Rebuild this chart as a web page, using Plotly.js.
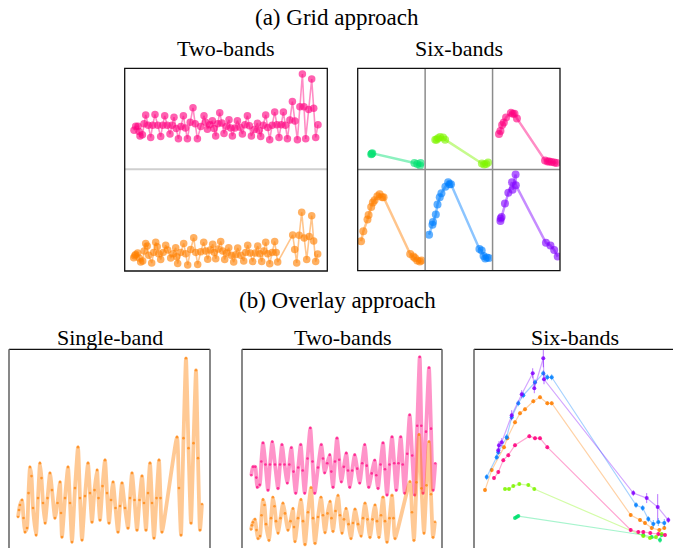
<!DOCTYPE html>
<html><head><meta charset="utf-8">
<script src="https://cdn.plot.ly/plotly-3.0.1.min.js"></script>
<style>html,body{margin:0;padding:0;background:#fff;}#chart{width:673px;height:548px;}</style>
</head><body><div id="chart"></div>
<script>
// ---------------- DATA ----------------
// Two-band light curve (arbitrary time / flux units)
const orangeTime = [9,10,11,13,14.5,16,18,19.5,21,22.5,24,27,29,31,32.5,34,36,38.5,41,43,46,48.5,51,52,53,56,59,61,63,66,69,71,73,76,79,81,83,85.5,88,89.5,91,93.5,96,98,100,102,104,106.5,109,111,113,116,119,121,123,125.5,128,130.5,133,135,137,139,141,143,145,147.5,150,151.5,153,168,170,172,174.5,177,179.5,182,184.5,187,189,191,193];
const orangeFlux = [31,38,43,48,30,16,20,55,81,72,40,13,50,85,70,45,25,50,75,58,30,45,66,35,11,50,81,45,6,60,101,50,8,52,85,55,26,58,78,50,28,62,88,55,25,48,66,40,16,42,65,40,20,50,75,48,18,48,72,45,18,55,85,45,10,50,88,50,16,111,60,13,110,190,100,25,105,178,90,18,44];
const pinkTime = [9.3,11,13.3,14.3,15.3,17.7,19.3,21,23.5,26,28,30.3,33,36,38,40,42.5,45.3,47.3,49.3,51.5,53.7,56.2,58.7,60.7,62.7,65.5,68.3,70.5,72.7,76,79.3,81,82.7,85.2,87.7,89.3,91,93,95,97.2,99.3,101.8,104.3,106,107.7,110.2,112.7,115.2,117.7,120.2,122.7,124.7,126.7,129.7,132.7,134.3,136,138.5,141,143,145,147.5,150,152.2,154.3,156.5,158.7,160.7,162.7,165.2,167.7,170.2,172.7,175.2,177.7,179.3,181,184,187,189,191,193.3];
const pinkFlux = [122,136,136,118,102,106,145,176,140,97,140,178,140,100,140,173,140,109,140,168,128,92,135,173,130,92,150,201,145,92,135,173,150,126,142,156,128,102,145,184,148,111,136,159,130,102,130,156,133,109,142,173,138,102,125,147,122,100,140,176,132,89,140,186,142,97,142,186,140,92,158,223,155,89,205,320,205,92,195,302,200,97,142];

// Six-band transient
const sixGreenTime  = [40,41.7,43.3,168.3,176.7,185,186.7];
const sixGreenFlux  = [30,31,32,13,11,8,13];
const sixGreenErr   = [1.5,1.5,1.5,1.5,1.5,3,1.5];
const sixLimeTime   = [30,34,38.3,44.3,53.3,59.3,168.3,175,181,186.7];
const sixLimeFlux   = [59,59,62,64,63,59,12,10,11,14];
const sixLimeErr    = [1.5,1.5,1.5,1.5,1.5,1.5,1.5,1.5,1.5,1.5];
const sixPinkTime   = [19,23.3,28.3,33.3,40,54.3,60,65,72.3,155.7,163.3,168.3,175.3,183.3,190];
const sixPinkFlux   = [70,76,88,93,103,112,110,110,101,18,16,16,15,14,13];
const sixPinkErr    = [2,2,2,2,2,2,2,2,2,2,2,2,2,2,2];
const sixOrangeTime = [10,16.7,29,32.3,40,45,50,58.3,65,72.3,76.7,155.7,165,170,176.7,184.3,189.3];
const sixOrangeFlux = [58,78,101,110,126,135,139,147,151,145,145,33,28,25,20,18,20];
const sixOrangeErr  = [2,2,2,2,2,2,2,2,2,2,2,2,2,2,2,2,2];
const sixBlueTime   = [11.7,21.7,23.3,31.7,36.7,43.3,48.3,60,68.3,72.3,76.7,161,167.7,173.3,178.3,183.3,189.3];
const sixBlueFlux   = [71,91,96,111,131,145,153,166,175,171,171,43,40,29,24,26,25];
const sixBlueErr    = [3,3,3,3,3,3,3,3,3,3,3,3,3,3,4,4,4];
const sixPurpleTime = [23.3,24,26.7,36.7,46.7,57.7,59.3,68.3,69,158.3,171.7,182.7,193.3];
const sixPurpleFlux = [98,103,106,133,154,175,160,190,169,55,50,41,28];
const sixPurpleErr  = [4,4,4,5,4,5,5,9,5,3,5,13,3];

const mainTitles = ["(a) Grid approach", "(b) Overlay approach"];
const panelTitles = ["Two-bands", "Six-bands", "Single-band", "Two-bands", "Six-bands"];

// ---------------- STYLE / LAYOUT ----------------
const W = 673, H = 548;
const px = v => v / W;
const py = v => 1 - v / H;
const C = {
  pink: [255,0,127], orange: [255,127,0], green: [0,224,112],
  lime: [128,245,0], blue: [0,127,255], purple: [128,0,255]
};
const rgba = (c, a) => `rgba(${c[0]},${c[1]},${c[2]},${a})`;

const layout = {
  width: W, height: H, margin: {l:0,r:0,t:0,b:0},
  paper_bgcolor: '#fff', plot_bgcolor: 'rgba(0,0,0,0)',
  showlegend: false, shapes: [], annotations: []
};
function axisPair(n, left, right, top, bottom, xr, yr) {
  const s = n === 1 ? '' : String(n);
  layout['xaxis' + s] = {domain:[Math.max(0,px(left)), Math.min(1,px(right))], range:xr, visible:false, fixedrange:true, anchor:'y'+s};
  layout['yaxis' + s] = {domain:[Math.max(0,py(bottom)), Math.min(1,py(top))], range:yr, visible:false, fixedrange:true, anchor:'x'+s};
}
const traces = [];
function addTrace(n, t, f, c, st, err) {
  const s = n === 1 ? '' : String(n);
  const tr = {
    type:'scatter', mode:'lines+markers', x:t, y:f, xaxis:'x'+s, yaxis:'y'+s,
    line:{color:rgba(c, st.la), width:st.lw, shape: st.spline ? 'spline' : 'linear', smoothing: st.spline || 0},
    marker:{color:rgba(c, st.ma), size:st.ms, line:{width:0}},
    hoverinfo:'skip', cliponaxis:true
  };
  if (err) tr.error_y = {type:'data', array:err, visible:true, color:rgba(c,0.55), thickness:1, width:0};
  traces.push(tr);
}

// Grid two-band
const g2L = 124.7, g2R = 327.3, g2T = 68.3, g2M = 169.3, g2B = 271;
axisPair(1, g2L, g2R, g2T, g2M, [0, 202.6], [-15, 340]);
axisPair(2, g2L, g2R, g2M, g2B, [0, 202.6], [-15, 340]);
const gridTwoStyle = {la:0.45, lw:1.6, ma:0.62, ms:7.5};
addTrace(1, pinkTime, pinkFlux, C.pink, gridTwoStyle);
addTrace(2, orangeTime, orangeFlux, C.orange, gridTwoStyle);

// Grid six-band
const g6L = 357.7, g6R = 560, g6T = 68.3, g6B = 270.7;
const cw = (g6R - g6L) / 3, g6M = (g6T + g6B) / 2;
const sixSets = [
  [sixGreenTime, sixGreenFlux, sixGreenErr, C.green],
  [sixLimeTime, sixLimeFlux, sixLimeErr, C.lime],
  [sixPinkTime, sixPinkFlux, sixPinkErr, C.pink],
  [sixOrangeTime, sixOrangeFlux, sixOrangeErr, C.orange],
  [sixBlueTime, sixBlueFlux, sixBlueErr, C.blue],
  [sixPurpleTime, sixPurpleFlux, sixPurpleErr, C.purple]
];
const gridSixStyle = {la:0.45, lw:2.5, ma:0.62, ms:8};
sixSets.forEach((s, i) => {
  const col = i % 3, row = Math.floor(i / 3);
  const l = g6L + col * cw, r = l + cw;
  const t = row === 0 ? g6T : g6M, b = row === 0 ? g6M : g6B;
  axisPair(3 + i, l, r, t, b, [0, 200], [0, 200]);
  addTrace(3 + i, s[0], s[1], s[3], gridSixStyle);
});

// Overlay panels
const oTop = 349.3, oBot = 548;
axisPair(9, 9, 210, oTop, oBot, [0, 201], [0, 199]);
const ovStyle = {la:0.42, lw:3.8, ma:0.7, ms:2.6, spline:0.5};
addTrace(9, orangeTime, orangeFlux, C.orange, ovStyle);

axisPair(10, 242, 442, oTop, oBot, [0, 200], [0, 333]);
addTrace(10, pinkTime, pinkFlux, C.pink, ovStyle);
addTrace(10, orangeTime, orangeFlux, C.orange, ovStyle);

axisPair(11, 474, 673, oTop, oBot, [-1, 198], [0, 199]);
const ov6Style = {la:0.35, lw:1.2, ma:0.85, ms:4};
sixSets.forEach(s => addTrace(11, s[0], s[1], s[3], ov6Style, s[2]));

// Borders
function line(x0, y0, x1, y1, color, width) {
  layout.shapes.push({type:'line', xref:'paper', yref:'paper', x0:px(x0), y0:py(y0), x1:px(x1), y1:py(y1), line:{color, width}});
}
line(g2L, g2M, g2R, g2M, '#cfcfcf', 2);
line(g6L + cw, g6T, g6L + cw, g6B, '#8c8c8c', 1.5);
line(g6L + 2*cw, g6T, g6L + 2*cw, g6B, '#8c8c8c', 1.5);
line(g6L, g6M, g6R, g6M, '#8c8c8c', 1.5);
[[g2L,g2R,g2T,g2B],[g6L,g6R,g6T,g6B]].forEach(b => {
  layout.shapes.push({type:'rect', xref:'paper', yref:'paper', x0:px(b[0]), x1:px(b[1]), y0:py(b[3]), y1:py(b[2]), line:{color:'#111', width:1.3}, fillcolor:'rgba(0,0,0,0)'});
});
[[9,210,true],[242,442,true],[474,673,false]].forEach(b => {
  line(b[0], oTop, b[1], oTop, '#111', 1.3);
  line(b[0], oTop, b[0], oBot, '#6a6a6a', 1.6);
  if (b[2]) line(b[1], oTop, b[1], oBot, '#6a6a6a', 1.6);
});

// Titles
function text(s, x, y, size) {
  layout.annotations.push({text:s, xref:'paper', yref:'paper', x:px(x), y:py(y), xanchor:'center', yanchor:'middle', showarrow:false, font:{family:'Liberation Serif, serif', size, color:'#000'}});
}
text(mainTitles[0], 337, 17, 23);
text(mainTitles[1], 337, 300, 23);
text(panelTitles[0], (g2L + g2R) / 2, 48, 22);
text(panelTitles[1], (g6L + g6R) / 2, 48, 22);
text(panelTitles[2], 109.5, 337, 22);
text(panelTitles[3], 342, 337, 22);
text(panelTitles[4], 575, 337, 22);

Plotly.newPlot('chart', traces, layout, {staticPlot:true, displayModeBar:false});
</script>
</body></html>
